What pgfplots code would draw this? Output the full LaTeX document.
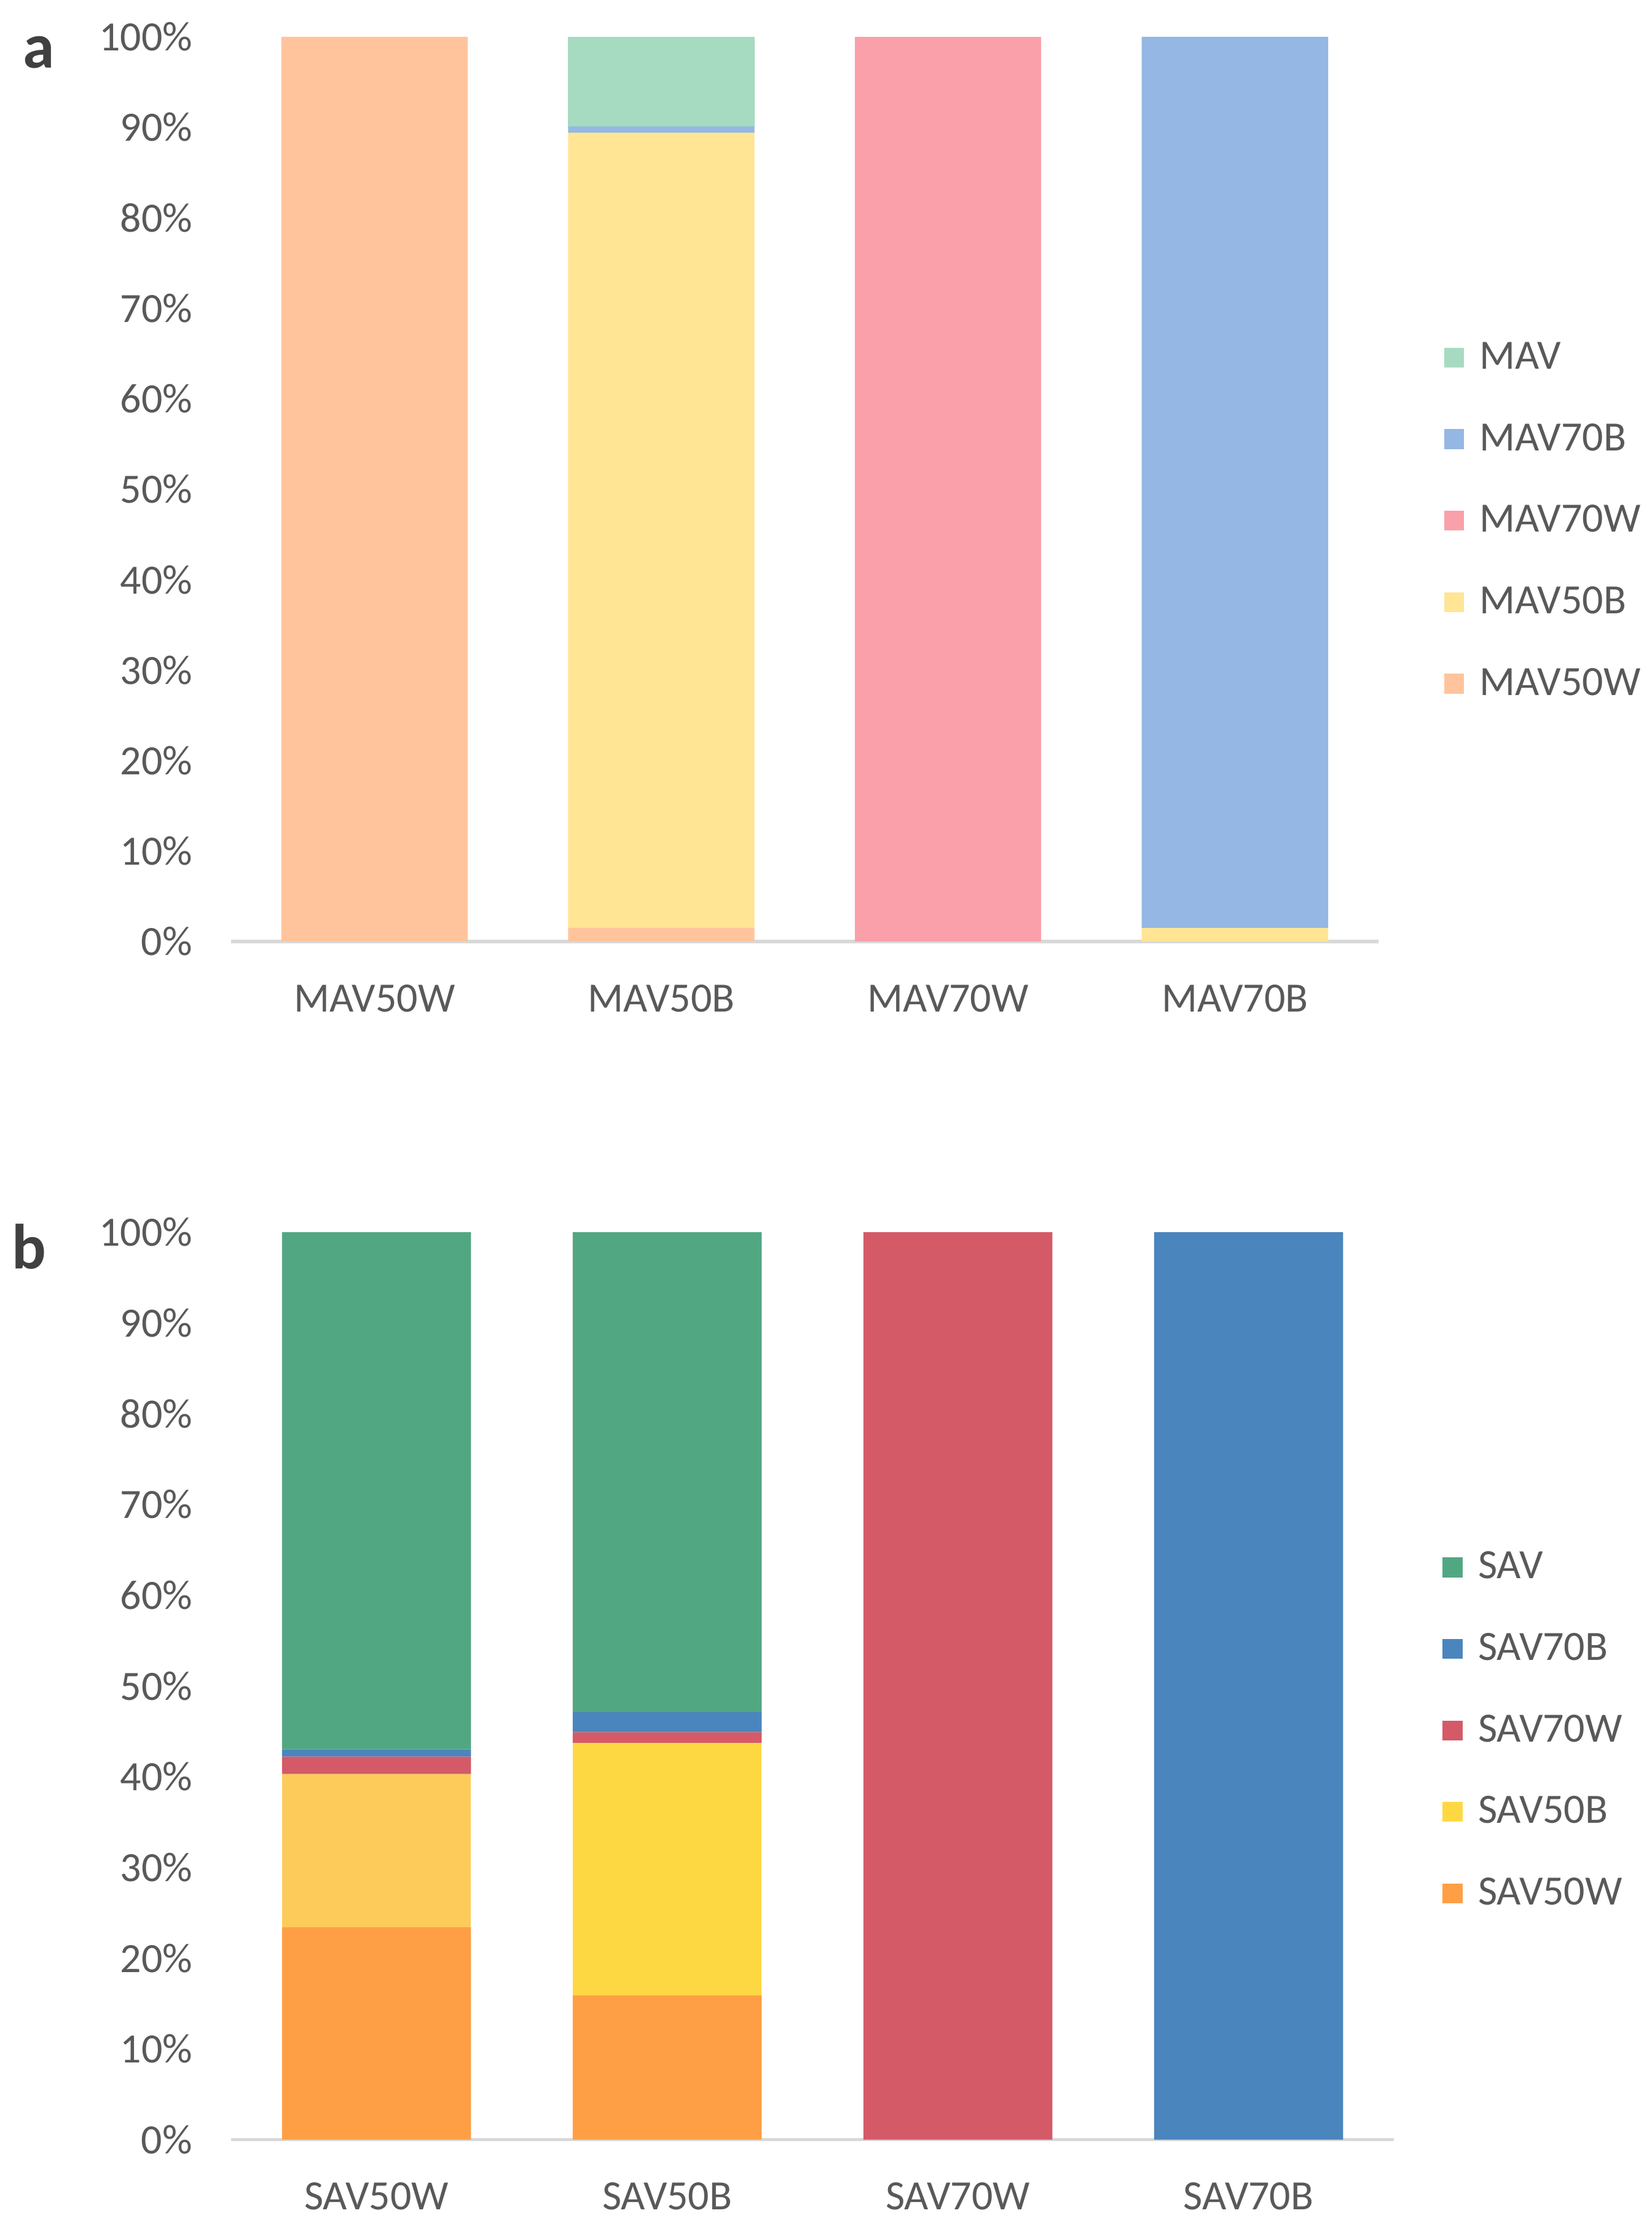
\documentclass[border=0pt]{standalone}
\usepackage{fontspec}
\setmainfont{Carlito}
\usepackage{pgfplots}
\pgfplotsset{compat=1.18}
\definecolor{cMAV}{HTML}{A7DBC1}
\definecolor{cMAVsevB}{HTML}{95B7E3}
\definecolor{cMAVsevW}{HTML}{F9A0AA}
\definecolor{cMAVfifB}{HTML}{FFE594}
\definecolor{cMAVfifW}{HTML}{FFC49C}
\definecolor{cSAV}{HTML}{52A783}
\definecolor{cSAVsevB}{HTML}{4A85BD}
\definecolor{cSAVsevW}{HTML}{D45A68}
\definecolor{cSAVfifB}{HTML}{FED843}
\definecolor{cSAVfifBa}{HTML}{FDCB5A}
\definecolor{cSAVfifW}{HTML}{FE9F45}
\definecolor{tgray}{HTML}{595959}
\definecolor{lgray}{HTML}{D9D9D9}
\pgfplotsset{
  panel/.style={
    scale only axis,
    ybar stacked,
    bar width=0.65,
    ymin=0, ymax=100, xmin=-0.5, xmax=3.5,
    axis x line*=bottom, axis y line*=left,
    x axis line style={draw=lgray, line width=1.1pt, -},
    y axis line style={draw=none},
    tick style={draw=none},
    major tick length=0pt,
    ytick={0,10,...,100},
    yticklabels={0\%,10\%,20\%,30\%,40\%,50\%,60\%,70\%,80\%,90\%,100\%},
    xtick={0,1,2,3},
    tick label style={font=\fontsize{14.7}{17}\selectfont, text=tgray},
    yticklabel style={inner sep=0pt, anchor=east, xshift=-13.5pt},
    xticklabel style={inner sep=0pt, anchor=north, yshift=-15pt},
    every axis plot/.append style={draw=none},
    reverse legend,
    legend style={draw=none, fill=none, inner sep=0pt, anchor=west,
      font=\fontsize{14.7}{17}\selectfont, text=tgray,
      row sep=13.7pt, legend cell align=left,
      /tikz/every odd column/.append style={column sep=3.5pt}},
    legend image code/.code={\fill[##1] (0pt,-3.5pt) rectangle (7pt,3.5pt);},
  }
}
\begin{document}
\begin{tikzpicture}
\useasboundingbox (0pt,0pt) rectangle (582.5pt,786pt);
\node[anchor=base west, inner sep=0pt, font=\fontsize{22.5}{26}\selectfont\bfseries, text={rgb,255:red,64;green,64;blue,64}] at (8pt,762pt) {a};
\node[anchor=base west, inner sep=0pt, font=\fontsize{22.5}{26}\selectfont\bfseries, text={rgb,255:red,64;green,64;blue,64}] at (4pt,338.5pt) {b};
\begin{axis}[panel, at={(81.5pt,454pt)}, anchor=south west,
  width=404.5pt, height=319pt,
  xticklabels={MAV50W,MAV50B,MAV70W,MAV70B},
  legend style={at={(1,0.465)}, xshift=23pt}]
\addplot[fill=cMAVfifW] coordinates {(0,100) (1,1.5) (2,0) (3,0)};
\addplot[fill=cMAVfifB] coordinates {(0,0) (1,87.9) (2,0) (3,1.5)};
\addplot[fill=cMAVsevW] coordinates {(0,0) (1,0) (2,100) (3,0)};
\addplot[fill=cMAVsevB] coordinates {(0,0) (1,0.7) (2,0) (3,98.5)};
\addplot[fill=cMAV] coordinates {(0,0) (1,9.9) (2,0) (3,0)};
\legend{MAV50W,MAV50B,MAV70W,MAV70B,MAV}
\end{axis}
\begin{axis}[panel, at={(81.5pt,31.5pt)}, anchor=south west,
  width=410pt, height=320pt,
  xticklabels={SAV50W,SAV50B,SAV70W,SAV70B},
  legend style={at={(1,0.451)}, xshift=17pt}]
\addplot[fill=cSAVfifW] coordinates {(0,23.4) (1,15.9) (2,0) (3,0)};
\addplot[fill=cSAVfifBa, forget plot] coordinates {(0,16.9) (1,0) (2,0) (3,0)};
\addplot[fill=cSAVfifB] coordinates {(0,0) (1,27.8) (2,0) (3,0)};
\addplot[fill=cSAVsevW] coordinates {(0,1.9) (1,1.2) (2,100) (3,0)};
\addplot[fill=cSAVsevB] coordinates {(0,0.8) (1,2.2) (2,0) (3,100)};
\addplot[fill=cSAV] coordinates {(0,57.0) (1,52.9) (2,0) (3,0)};
\legend{SAV50W,SAV50B,SAV70W,SAV70B,SAV}
\end{axis}
\end{tikzpicture}
\end{document}
